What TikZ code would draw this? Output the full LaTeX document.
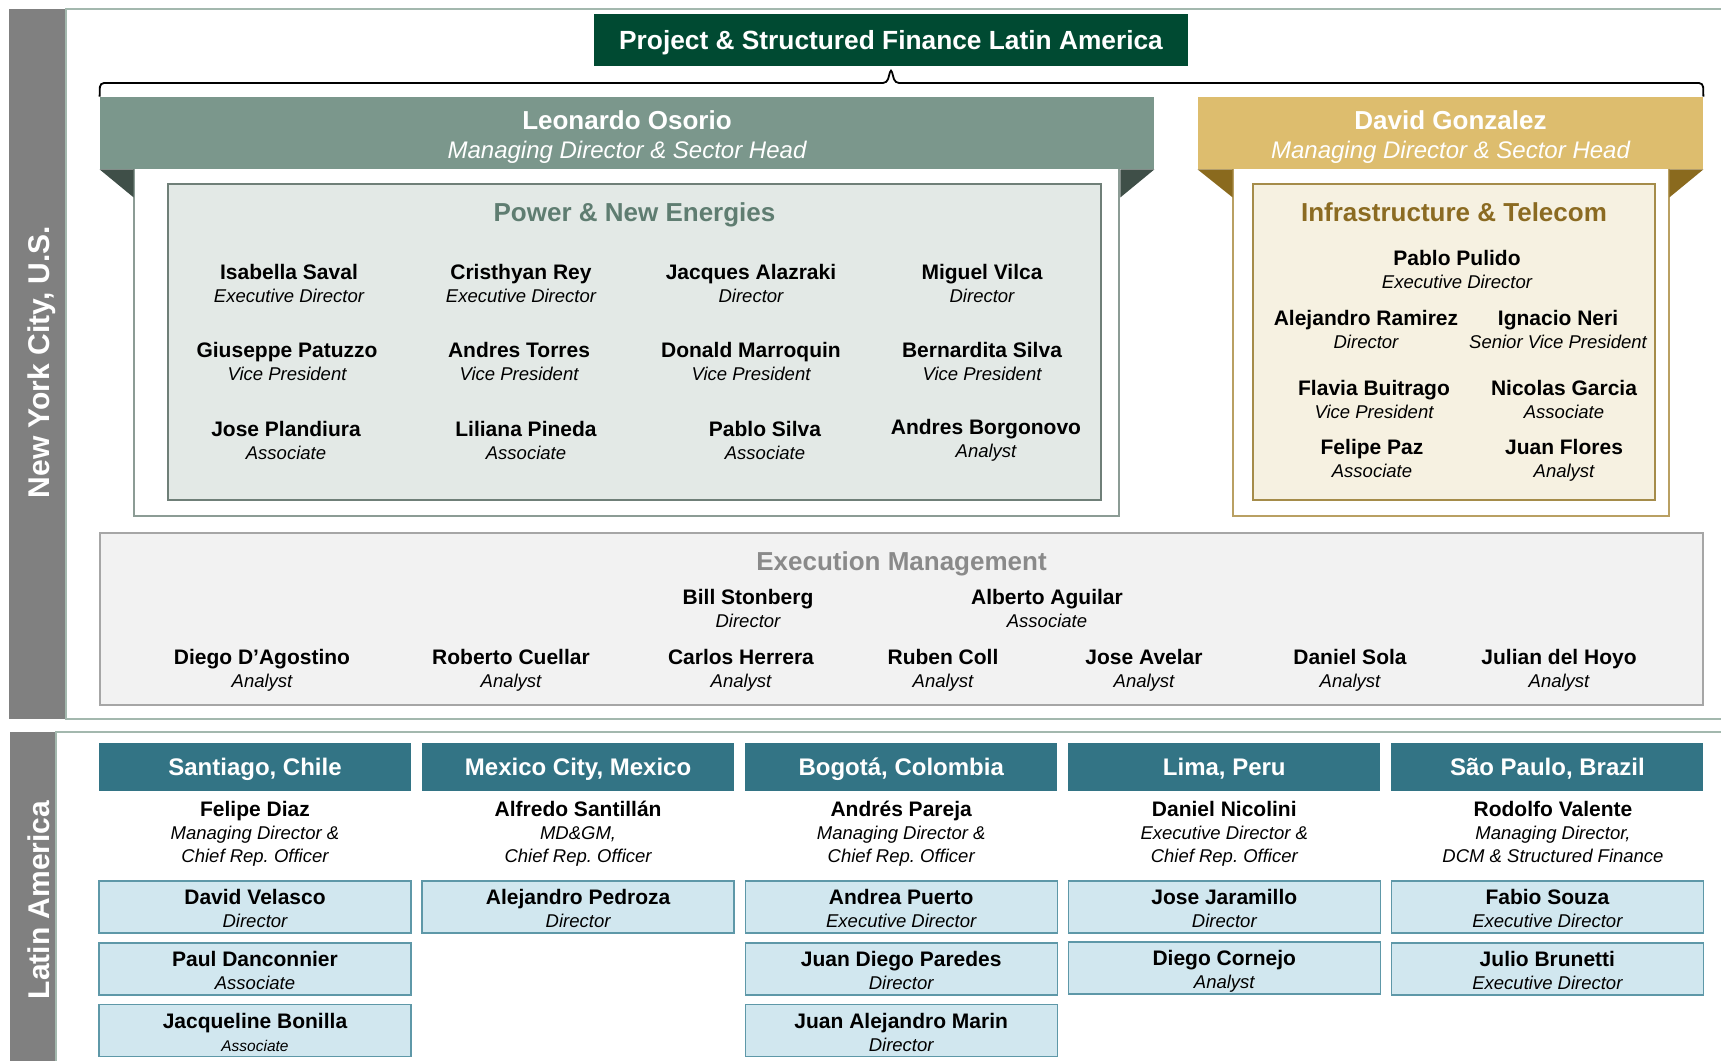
\documentclass[tikz,border=0pt]{standalone}
\usepackage{fontspec}
\setmainfont{Liberation Sans}
\frenchspacing
% name over role, struts fix the line box
\newcommand\who[3][8pt]{{\bfseries\fontsize{10.5}{11.5}\selectfont\rule{0pt}{#1}#2}\\\itshape #3\rule[-2.75pt]{0pt}{2.75pt}}
\newcommand\bandtext[2]{{\bfseries\fontsize{13}{14.6}\selectfont\rule{0pt}{16.2pt}#1}\\\itshape #2\rule[-5.2pt]{0pt}{5.2pt}}

\begin{document}
\begin{tikzpicture}[x=0.5pt,y=-0.5pt,
    every node/.style={inner sep=0pt},
    person/.style={align=center,anchor=north,font=\fontsize{9.25}{11.5}\selectfont},
    staffbox/.style={person,anchor=center,fill=staffblue,draw=staffedge,line width=0.7pt,
      minimum width=156pt,minimum height=26pt},
    heading/.style={font=\bfseries\fontsize{13}{15}\selectfont,text height=9.3pt,text depth=0pt},
    cityhead/.style={heading,font=\bfseries\fontsize{12}{14}\selectfont,text height=8.6pt,
      fill=cityteal,text=white,minimum width=156pt,minimum height=24pt},
    headband/.style={align=center,text=white,minimum height=36pt,font=\fontsize{12}{14.6}\selectfont},
    sidelabel/.style={rotate=90,text=white,font=\bfseries\fontsize{15}{17}\selectfont,
      text height=10.7pt,text depth=0pt}]
    \definecolor{titlegreen}{HTML}{004A32}
    \definecolor{osband}{HTML}{7B978C}
    \definecolor{osdark}{HTML}{3F4F48}
    \definecolor{osline}{HTML}{8C9C95}
    \definecolor{pnefill}{HTML}{E3E9E6}
    \definecolor{pneedge}{HTML}{6F7F78}
    \definecolor{pnetext}{HTML}{5F7D71}
    \definecolor{gzband}{HTML}{DDBD6E}
    \definecolor{gzdark}{HTML}{8A6A1E}
    \definecolor{gzline}{HTML}{B9A063}
    \definecolor{itfill}{HTML}{F6F1E1}
    \definecolor{itedge}{HTML}{A58C4A}
    \definecolor{ittext}{HTML}{8B6B22}
    \definecolor{exfill}{HTML}{F2F2F2}
    \definecolor{exedge}{HTML}{A6A6A6}
    \definecolor{extext}{HTML}{8A8A8A}
    \definecolor{sidegray}{HTML}{808080}
    \definecolor{frameline}{HTML}{A3B8AE}
    \definecolor{cityteal}{HTML}{337485}
    \definecolor{staffblue}{HTML}{D1E7EF}
    \definecolor{staffedge}{HTML}{5E98A8}
    \useasboundingbox (0,0) rectangle (1721,1061);

    % Seccion New York
    \fill[sidegray] (9,9) rectangle (66,719);
    \draw[frameline,line width=0.75pt] (1721,9) -- (66,9) -- (66,719) -- (1721,719);
    \node[sidelabel] (nyc) at (39,362) {New York City, U.S.};

    % Titulo y llave
    \node[heading,fill=titlegreen,text=white,minimum width=297pt,minimum height=26pt] (pf) at (891,40)
      {\fontsize{13.15}{15}\selectfont Project \& Structured Finance Latin America};

    % Power & New Energies
    \draw[osline,line width=0.6pt] (134,169) -- (134,516) -- (1119,516) -- (1119,169);
    \node[headband,fill=osband,minimum width=527pt] (osorio) at (627,133)
      {\bandtext{Leonardo Osorio}{Managing Director \& Sector Head}};
    \fill[osdark] (osorio.south west) -- ++(34,0) -- ++(0,28) -- cycle;
    \fill[osdark] (osorio.south east) -- ++(-34,0) -- ++(0,28) -- cycle;
    \draw[pneedge,fill=pnefill,line width=0.6pt] (168,184) rectangle (1101,500);
    \node[heading,text=pnetext] (pne) at (634.5,212) {Power \& New Energies};
    \foreach \px/\py/\nm/\rl [count=\i] in {
        289/272/Isabella Saval/Executive Director,
        521/272/Cristhyan Rey/Executive Director,
        751/272/Jacques Alazraki/Director,
        982/272/Miguel Vilca/Director,
        287/350/Giuseppe Patuzzo/Vice President,
        519/350/Andres Torres/Vice President,
        751/350/Donald Marroquin/Vice President,
        982/350/Bernardita Silva/Vice President,
        286/429/Jose Plandiura/Associate,
        526/429/Liliana Pineda/Associate,
        765/429/Pablo Silva/Associate,
        986/427/Andres Borgonovo/Analyst}
      \node[person] (pne\i) at (\px,\py-8.5) {\who{\nm}{\rl}};

    % Infrastructure & Telecom
    \draw[gzline,line width=0.6pt] (1233,169) -- (1233,516) -- (1669,516) -- (1669,169);
    \node[headband,fill=gzband,minimum width=252.5pt] (gonzalez) at (1450.5,133)
      {\bandtext{David Gonzalez}{Managing Director \& Sector Head}};
    \fill[gzdark] (gonzalez.south west) -- ++(35,0) -- ++(0,28) -- cycle;
    \fill[gzdark] (gonzalez.south east) -- ++(-34,0) -- ++(0,28) -- cycle;
    \draw[itedge,fill=itfill,line width=0.6pt] (1253,184) rectangle (1655,500);
    \node[heading,text=ittext] (itc) at (1454,212) {Infrastructure \& Telecom};
    \foreach \px/\py/\nm/\rl [count=\i] in {
        1457/258/Pablo Pulido/Executive Director,
        1366/318/Alejandro Ramirez/Director,
        1558/318/Ignacio Neri/Senior Vice President,
        1374/388/Flavia Buitrago/Vice President,
        1564/388/Nicolas Garcia/Associate,
        1372/447/Felipe Paz/Associate,
        1564/447/Juan Flores/Analyst}
      \node[person] (itc\i) at (\px,\py-8.5) {\who{\nm}{\rl}};

    % llave
    \coordinate (tip) at ([yshift=-1pt]pf.south);
    \draw[line width=0.9pt,rounded corners=2pt] (osorio.north west) -- (100,83) -- (887,83) -- (tip)
      -- (895,83) -- (1703,83) -- (gonzalez.north east);

    % Execution Management
    \draw[exedge,fill=exfill,line width=0.6pt] (100,533) rectangle (1703,705);
    \node[heading,text=extext] (exm) at (901.5,561) {Execution Management};
    \foreach \px/\py/\nm/\rl [count=\i] in {
        748/597/Bill Stonberg/Director,
        1047/597/Alberto Aguilar/Associate,
        262/657/Diego D’Agostino/Analyst,
        511/657/Roberto Cuellar/Analyst,
        741/657/Carlos Herrera/Analyst,
        943/657/Ruben Coll/Analyst,
        1144/657/Jose Avelar/Analyst,
        1350/657/Daniel Sola/Analyst,
        1559/657/Julian del Hoyo/Analyst}
      \node[person] (exm\i) at (\px,\py-8.5) {\who{\nm}{\rl}};

    % Seccion Latin America
    \fill[sidegray] (10,732) rectangle (56,1061);
    \draw[frameline,line width=0.75pt] (1721,732) -- (56,732) -- (56,1061);
    \node[sidelabel] (latam) at (39,900) {Latin America};
    \foreach \cname [count=\i from 0] in {{Santiago, Chile},{Mexico City, Mexico},
        {Bogotá, Colombia},{Lima, Peru},{São Paulo, Brazil}}
      \node[cityhead] (city\i) at (255+323.1*\i,767) {\cname};
    % jefes locales
    \node[person] (diaz) at (255,800.5) {\who{Felipe Diaz}{Managing Director \&\\\itshape Chief Rep. Officer}};
    \node[person] (santillan) at (578.1,800.5) {\who{Alfredo Santillán}{MD\&GM,\\\itshape Chief Rep. Officer}};
    \node[person] (pareja) at (901.2,800.5) {\who{Andrés Pareja}{Managing Director \&\\\itshape Chief Rep. Officer}};
    \node[person] (nicolini) at (1224.3,800.5) {\who{Daniel Nicolini}{Executive Director \&\\\itshape Chief Rep. Officer}};
    \node[person] (valente) at (1553,800.5) {\who{Rodolfo Valente}{Managing Director,\\\itshape DCM \& Structured Finance}};
    % equipos locales
    \node[staffbox] (velasco) at (255,907) {\who[11.75pt]{David Velasco}{Director}};
    \node[staffbox] (danconnier) at (255,969) {\who[11.75pt]{Paul Danconnier}{Associate}};
    \node[staffbox] (bonilla) at (255,1030.5)
      {\who[11.75pt]{Jacqueline Bonilla}{\fontsize{7.75}{9}\selectfont Associate}};
    \node[staffbox] (pedroza) at (578.1,907) {\who[11.75pt]{Alejandro Pedroza}{Director}};
    \node[staffbox] (puerto) at (901.2,907) {\who[11.75pt]{Andrea Puerto}{Executive Director}};
    \node[staffbox] (paredes) at (901.2,969) {\who[11.75pt]{Juan Diego Paredes}{Director}};
    \node[staffbox] (marin) at (901.2,1030.5) {\who[11.75pt]{Juan Alejandro Marin}{Director}};
    \node[staffbox] (jaramillo) at (1224.3,907) {\who[11.75pt]{Jose Jaramillo}{Director}};
    \node[staffbox] (cornejo) at (1224.3,968) {\who[11.75pt]{Diego Cornejo}{Analyst}};
    \node[staffbox] (souza) at (1547.4,907) {\who[11.75pt]{Fabio Souza}{Executive Director}};
    \node[staffbox] (brunetti) at (1547.4,969) {\who[11.75pt]{Julio Brunetti}{Executive Director}};
  \end{tikzpicture}
\end{document}
